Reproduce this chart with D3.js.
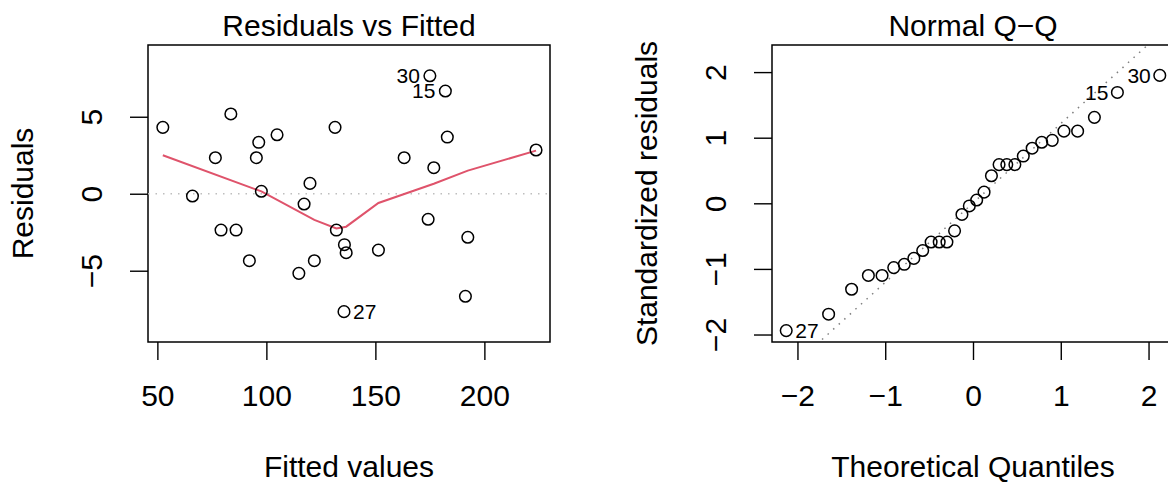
<!DOCTYPE html>
<html>
<head>
<meta charset="utf-8">
<script src="https://cdn.jsdelivr.net/npm/d3@7"></script>
<style>
  body { margin: 0; background: #fff; }
  svg { display: block; font-family: "Liberation Sans", Arial, sans-serif; }
</style>
</head>
<body>
<script>

//Residuals vs Fitted data
var fitted = [52.5, 66.1, 76.6, 79.2, 83.7, 86.1, 92.2, 95.4, 96.5, 97.7, 104.9, 114.9, 117.3, 120.0, 122.0,
              131.5, 132.1, 135.8, 136.6, 135.6, 151.4, 163.2, 174.2, 175.0, 176.8, 182.1, 183.0, 191.3, 192.4, 223.7];
var residuals = [4.31, -0.15, 2.34, -2.36, 5.18, -2.36, -4.35, 2.34, 3.34, 0.16, 3.83, -5.17, -0.67, 0.67, -4.35,
                 4.31, -2.36, -3.31, -3.83, -7.66, -3.66, 2.34, -1.66, 7.66, 1.69, 6.67, 3.68, -6.66, -2.83, 2.84];
var residIds = ["", "", "", "", "", "", "", "", "", "", "", "", "", "", "",
                "", "", "", "", "27", "", "", "", "30", "", "15", "", "", "", ""];

//Smoother (red line)
var smoothX = [52.5, 97.7, 122.0, 132.1, 136.6, 151.4, 176.8, 192.4, 223.7];
var smoothY = [2.50, 0.15, -1.70, -2.25, -2.14, -0.60, 0.65, 1.50, 2.80];

//Normal Q-Q data
var theoQuantiles = [-2.128, -1.645, -1.383, -1.192, -1.036, -0.903, -0.783, -0.674, -0.573, -0.477, -0.385, -0.297, -0.210, -0.126, -0.042,
                     0.042, 0.126, 0.210, 0.297, 0.385, 0.477, 0.573, 0.674, 0.783, 0.903, 1.036, 1.192, 1.383, 1.645, 2.128];
var stdResiduals = [-1.94, -1.69, -1.31, -1.10, -1.10, -0.98, -0.93, -0.84, -0.72, -0.59, -0.59, -0.59, -0.42, -0.17, -0.04,
                    0.05, 0.17, 0.42, 0.59, 0.59, 0.59, 0.72, 0.84, 0.93, 0.96, 1.10, 1.10, 1.31, 1.69, 1.95];
var qqIds = ["27", "", "", "", "", "", "", "", "", "", "", "", "", "", "",
             "", "", "", "", "", "", "", "", "", "", "", "", "", "15", "30"];
var qqLineIntercept = 0.005;
var qqLineSlope = 1.21;

//Axis ticks
var residXTicks = [50, 100, 150, 200];
var residYTicks = [-5, 0, 5];
var qqXTicks = [-2, -1, 0, 1, 2];
var qqYTicks = [-2, -1, 0, 1, 2];

//Width and height
var width = 1168;
var height = 483;
var fontSize = 30;
var idFontSize = 21;
var minus = function(v) { return String(v).replace("-", "\u2212"); };

var svg = d3.select("body")
            .append("svg")
            .attr("width", width)
            .attr("height", height);

function drawPanel(opts) {
    var g = svg.append("g");
    var x = d3.scaleLinear().domain(opts.xDomain).range([opts.left, opts.left + 402]);
    var y = d3.scaleLinear().domain(opts.yDomain).range([342, 45]);

    //clip for reference lines
    svg.append("clipPath").attr("id", opts.id + "-clip")
       .append("rect")
       .attr("x", opts.left).attr("y", 45)
       .attr("width", 402).attr("height", 297);

    //title and axis labels
    g.append("text")
     .attr("x", opts.left + 201).attr("y", 36)
     .attr("text-anchor", "middle")
     .style("font-size", fontSize + "px")
     .text(opts.title);
    g.append("text")
     .attr("x", opts.left + 201).attr("y", 477)
     .attr("text-anchor", "middle")
     .style("font-size", fontSize + "px")
     .text(opts.xLabel);
    g.append("text")
     .attr("transform", "translate(" + (opts.left - 115) + "," + 193.5 + ") rotate(-90)")
     .attr("text-anchor", "middle")
     .style("font-size", fontSize + "px")
     .text(opts.yLabel);

    //x axis
    var xAxis = d3.axisBottom(x).tickValues(opts.xTicks).tickSize(18).tickPadding(0).tickFormat(minus);
    var gx = g.append("g").attr("transform", "translate(0,342)").call(xAxis);
    gx.select(".domain").remove();
    gx.selectAll(".tick line").attr("stroke", "#000").attr("stroke-width", 1.4);
    gx.selectAll(".tick text")
      .attr("y", 64).attr("dy", null)
      .style("font-size", fontSize + "px")
      .style("font-family", "'Liberation Sans', Arial, sans-serif")
      .attr("fill", "#000");

    //y axis (labels rotated like R)
    var yAxis = d3.axisLeft(y).tickValues(opts.yTicks).tickSize(18).tickFormat(minus);
    var gy = g.append("g").attr("transform", "translate(" + opts.left + ",0)").call(yAxis);
    gy.select(".domain").remove();
    gy.selectAll(".tick line").attr("stroke", "#000").attr("stroke-width", 1.4);
    gy.selectAll(".tick text")
      .attr("x", null).attr("dy", null)
      .attr("transform", "translate(-46,0) rotate(-90)")
      .attr("text-anchor", "middle")
      .style("font-size", fontSize + "px")
      .style("font-family", "'Liberation Sans', Arial, sans-serif")
      .attr("fill", "#000");

    //box
    g.append("rect")
     .attr("x", opts.left).attr("y", 45)
     .attr("width", 402).attr("height", 297)
     .attr("fill", "none").attr("stroke", "#000").attr("stroke-width", 1.5);

    return {g: g, x: x, y: y};
}

//Residuals vs Fitted panel
var p1 = drawPanel({
    id: "resid", left: 148,
    xDomain: [45.7, 230.1], yDomain: [-9.63, 9.66],
    xTicks: residXTicks, yTicks: residYTicks,
    title: "Residuals vs Fitted", xLabel: "Fitted values", yLabel: "Residuals"
});

p1.g.append("line")
    .attr("clip-path", "url(#resid-clip)")
    .attr("x1", 148).attr("x2", 550)
    .attr("y1", p1.y(0)).attr("y2", p1.y(0))
    .attr("stroke", "#bebebe").attr("stroke-width", 1.5)
    .attr("stroke-dasharray", "1.5,6");

p1.g.append("path")
    .datum(d3.zip(smoothX, smoothY))
    .attr("d", d3.line().x(function(d) { return p1.x(d[0]); }).y(function(d) { return p1.y(d[1]); }))
    .attr("fill", "none").attr("stroke", "#df536b").attr("stroke-width", 2);

p1.g.selectAll("circle.pt")
    .data(d3.zip(fitted, residuals))
    .enter()
    .append("circle")
    .attr("cx", function(d) { return p1.x(d[0]); })
    .attr("cy", function(d) { return p1.y(d[1]); })
    .attr("r", 5.8)
    .attr("fill", "none").attr("stroke", "#000").attr("stroke-width", 1.5);

var residMid = (d3.min(fitted) + d3.max(fitted)) / 2;
p1.g.selectAll("text.id")
    .data(d3.zip(fitted, residuals, residIds).filter(function(d) { return d[2] !== ""; }))
    .enter()
    .append("text")
    .attr("x", function(d) { return p1.x(d[0]) + (d[0] > residMid ? -10 : 9); })
    .attr("y", function(d) { return p1.y(d[1]); })
    .attr("dy", "0.35em")
    .attr("text-anchor", function(d) { return d[0] > residMid ? "end" : "start"; })
    .style("font-size", idFontSize + "px")
    .text(function(d) { return d[2]; });

//Normal Q-Q panel
var p2 = drawPanel({
    id: "qq", left: 772,
    xDomain: [-2.29, 2.29], yDomain: [-2.114, 2.413],
    xTicks: qqXTicks, yTicks: qqYTicks,
    title: "Normal Q\u2212Q", xLabel: "Theoretical Quantiles", yLabel: "Standardized residuals"
});

p2.g.append("line")
    .attr("clip-path", "url(#qq-clip)")
    .attr("x1", p2.x(-2.29)).attr("x2", p2.x(2.29))
    .attr("y1", p2.y(qqLineIntercept + qqLineSlope * -2.29))
    .attr("y2", p2.y(qqLineIntercept + qqLineSlope * 2.29))
    .attr("stroke", "#7f7f7f").attr("stroke-width", 1.5)
    .attr("stroke-dasharray", "1.5,6");

p2.g.selectAll("circle.pt")
    .data(d3.zip(theoQuantiles, stdResiduals))
    .enter()
    .append("circle")
    .attr("cx", function(d) { return p2.x(d[0]); })
    .attr("cy", function(d) { return p2.y(d[1]); })
    .attr("r", 5.8)
    .attr("fill", "none").attr("stroke", "#000").attr("stroke-width", 1.5);

p2.g.selectAll("text.id")
    .data(d3.zip(theoQuantiles, stdResiduals, qqIds).filter(function(d) { return d[2] !== ""; }))
    .enter()
    .append("text")
    .attr("x", function(d) { return p2.x(d[0]) + (d[0] > 0 ? -9 : 9); })
    .attr("y", function(d) { return p2.y(d[1]); })
    .attr("dy", "0.35em")
    .attr("text-anchor", function(d) { return d[0] > 0 ? "end" : "start"; })
    .style("font-size", idFontSize + "px")
    .text(function(d) { return d[2]; });

</script>
</body>
</html>
